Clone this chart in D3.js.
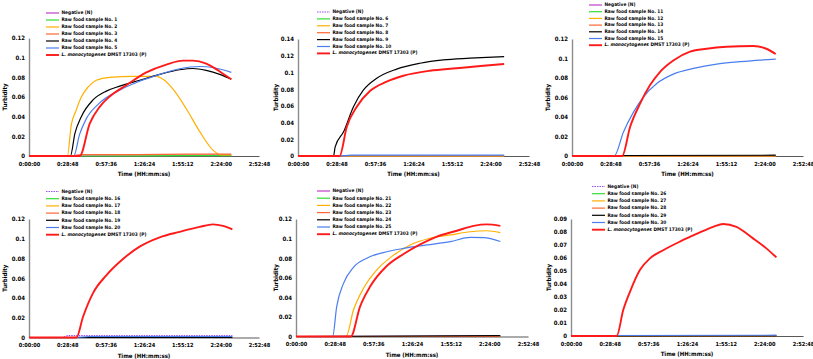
<!DOCTYPE html>
<html>
<head>
<meta charset="utf-8">
<script src="https://cdn.jsdelivr.net/npm/d3@7"></script>
<style>
  body { margin: 0; background: #fff; }
  svg { display: block; }
  text { font-family: "Liberation Sans Narrow", "DejaVu Sans Condensed", "Liberation Sans", sans-serif; }
</style>
</head>
<body>
<div id="chart"></div>
<script>
// time axis in minutes, tick every 28.8 min (0.02 day)
const xTicks = [0, 28.8, 57.6, 86.4, 115.2, 144, 172.8];
const xTickLabels = ["0:00:00", "0:28:48", "0:57:36", "1:26:24", "1:55:12", "2:24:00", "2:52:48"];
const posLabel = "DMST 17303 (P)";

const samples1 = ["Raw food sample No. 1", "Raw food sample No. 2", "Raw food sample No. 3", "Raw food sample No. 4", "Raw food sample No. 5"];
const samples2 = ["Raw food sample No. 6", "Raw food sample No. 7", "Raw food sample No. 8", "Raw food sample No. 9", "Raw food sample No. 10"];
const samples3 = ["Raw food sample No. 11", "Raw food sample No. 12", "Raw food sample No. 13", "Raw food sample No. 14", "Raw food sample No. 15"];
const samples4 = ["Raw food sample No. 16", "Raw food sample No. 17", "Raw food sample No. 18", "Raw food sample No. 19", "Raw food sample No. 20"];
const samples5 = ["Raw food sample No. 21", "Raw food sample No. 22", "Raw food sample No. 23", "Raw food sample No. 24", "Raw food sample No. 25"];
const samples6 = ["Raw food sample No. 26", "Raw food sample No. 27", "Raw food sample No. 28", "Raw food sample No. 29", "Raw food sample No. 30"];

// panel 1  [minutes, turbidity]
const p1Neg = [[0,0],[30,0],[40,0.001],[80,0.001],[120,0.001],[152,0.001]];
const p1S1 = [[0,0],[60,0],[120,0.0003],[152,0.0003]];
const p1S2 = [[0,0],[28.8,0],[31.8,0.032],[35,0.045],[39.3,0.06],[44.3,0.07],[50.6,0.077],[60.6,0.08],[78.1,0.081],[95.7,0.081],[100.7,0.078],[108.2,0.068],[118.2,0.048],[128.2,0.025],[138.2,0.006],[144.5,0.001],[152,0.001]];
const p1S3 = [[0,0],[30,0],[40,0.0015],[80,0.0015],[120,0.002],[152,0.002]];
const p1S4 = [[0,0],[31.1,0],[34.5,0.023],[39.3,0.04],[48.1,0.057],[58.1,0.066],[68.1,0.071],[83.1,0.077],[98.2,0.083],[113.2,0.0877],[123.2,0.089],[133.2,0.087],[143.3,0.083],[152,0.078]];
const p1S5 = [[0,0],[33.6,0],[38,0.022],[43.1,0.038],[53.1,0.054],[68.1,0.067],[83.1,0.076],[98.2,0.083],[113.2,0.0887],[128.2,0.091],[138.2,0.09],[152,0.085]];
const p1Pos = [[0,0],[38.1,0],[45.6,0.033],[53.1,0.05],[60.6,0.0605],[73.1,0.072],[88.2,0.085],[103.2,0.093],[115.7,0.097],[123.2,0.097],[133.2,0.094],[143.3,0.086],[152,0.078]];

// panel 2
const p2Neg = [[0,0],[154.2,0.0005]];
const p2Flat = [[0,0],[154.2,0]];
const p2S9 = [[0,0],[26.6,0],[27.8,0.011],[34.1,0.029],[41.5,0.059],[49,0.079],[58.9,0.093],[73.8,0.104],[91.2,0.111],[108.7,0.115],[128.5,0.117],[154.2,0.119]];
const p2S10 = [[0,0],[30,0],[40,0.001],[154.2,0.001]];
const p2Pos = [[0,0],[31.1,0],[36.5,0.035],[44,0.059],[54,0.078],[66.4,0.089],[78.8,0.096],[98.7,0.102],[118.6,0.105],[138.5,0.108],[154.2,0.11]];

// panel 3
const p3Neg = [[0,0],[152.4,0.0005]];
const p3Flat = [[0,0],[152.4,0]];
const p3S14 = [[0,0],[40,0.0005],[152.4,0.0008]];
const p3S15 = [[0,0],[31.6,0],[38.5,0.0247],[46,0.045],[53.5,0.0607],[63.4,0.0744],[75.8,0.084],[90.8,0.0898],[108.2,0.0943],[125.6,0.0967],[140.5,0.0984],[152.4,0.0994]];
const p3Pos = [[0,0],[37.5,0],[43.5,0.03],[51,0.054],[58.4,0.0727],[65.9,0.0864],[75.8,0.098],[88.3,0.107],[100.7,0.11],[115.6,0.112],[135.5,0.1128],[145.4,0.11],[152.4,0.1046]];

// panel 4
const p4Neg = [[0,0],[25,0],[30,0.002],[152.8,0.002]];
const p4Flat = [[0,0],[152.8,0]];
const p4S20 = [[0,0],[35,0],[45,0.001],[152.8,0.001]];
const p4Pos = [[0,0],[35.6,0],[40.6,0.021],[48.1,0.045],[58.1,0.063],[70.6,0.0795],[83.1,0.092],[98.2,0.1015],[113.2,0.107],[128.2,0.112],[138.2,0.1146],[145.8,0.113],[152.8,0.1095]];

// panel 5
const p5Neg = [[0,0],[152.2,0.0005]];
const p5Flat = [[0,0],[152.2,0]];
const p5S22 = [[0,0],[37.3,0],[42.8,0.027],[50.2,0.049],[60.2,0.068],[72.6,0.083],[85,0.0935],[99.9,0.1003],[114.9,0.1037],[129.8,0.107],[142.2,0.108],[152.2,0.106]];
const p5S24 = [[0,0],[152.2,0.0008]];
const p5S25 = [[0,0],[27.3,0],[30.3,0.0306],[35.3,0.054],[42.8,0.0707],[52.7,0.08],[65.1,0.0857],[80.1,0.09],[97.5,0.0935],[114.9,0.0969],[129.8,0.1013],[139.7,0.101],[152.2,0.097]];
const p5Pos = [[0,0],[40.8,0],[47.7,0.0306],[55.2,0.051],[67.6,0.072],[80.1,0.0843],[92.5,0.094],[104.9,0.102],[119.8,0.108],[132.3,0.113],[142.2,0.1145],[152.2,0.113]];

// panel 6
const p6Neg = [[0,0],[153,0.0004]];
const p6Flat = [[0,0],[153,0]];
const p6S30 = [[0,0],[20,0.0004],[153,0.0006]];
const p6Pos = [[0,0],[34,0],[38.9,0.02],[43.9,0.034],[51.3,0.0508],[58.8,0.0597],[68.7,0.066],[81.1,0.0726],[93.5,0.0785],[105.9,0.084],[113.3,0.0862],[123.2,0.084],[135.6,0.0751],[145.5,0.0674],[153,0.0605]];

const sampleColors = ["#33dd33", "#ffb000", "#ff6633", "#000000", "#4a7ef0"];
const posColor = "#ff1a1a";

const panels = [
  { samples: samples1, series: [p1S1, p1S2, p1S3, p1S4, p1S5], neg: p1Neg, pos: p1Pos, yMax: 0.12, yStep: 0.02,
    left: 29, right: 259, top: 38, bottom: 156, legX: 46, legY: 13, legDy: 7, titleX: 5, negColor: "#c040c8", negDash: null },
  { samples: samples2, series: [p2Flat, p2Flat, p2Flat, p2S9, p2S10], neg: p2Neg, pos: p2Pos, yMax: 0.14, yStep: 0.02,
    left: 298, right: 529, top: 39, bottom: 156, legX: 317, legY: 12, legDy: 6.9, titleX: 276, negColor: "#9b50f0", negDash: "1.5,1" },
  { samples: samples3, series: [p3Flat, p3Flat, p3Flat, p3S14, p3S15], neg: p3Neg, pos: p3Pos, yMax: 0.12, yStep: 0.02,
    left: 572, right: 803, top: 39, bottom: 156, legX: 589, legY: 5, legDy: 6.7, titleX: 548, negColor: "#c040c8", negDash: null },
  { samples: samples4, series: [p4Flat, p4Flat, p4Flat, p4Flat, p4S20], neg: p4Neg, pos: p4Pos, yMax: 0.12, yStep: 0.02,
    left: 29, right: 259, top: 219, bottom: 337.5, legX: 46, legY: 191.5, legDy: 7.2, titleX: 5, negColor: "#9b50f0", negDash: "1.5,1" },
  { samples: samples5, series: [p5Flat, p5S22, p5Flat, p5S24, p5S25], neg: p5Neg, pos: p5Pos, yMax: 0.12, yStep: 0.02,
    left: 296, right: 528, top: 219, bottom: 336.5, legX: 317, legY: 191, legDy: 7.2, titleX: 276, negColor: "#c040c8", negDash: null },
  { samples: samples6, series: [p6Flat, p6Flat, p6Flat, p6Flat, p6S30], neg: p6Neg, pos: p6Pos, yMax: 0.09, yStep: 0.01,
    left: 571, right: 803, top: 219, bottom: 336, legX: 592, legY: 186.5, legDy: 7.2, titleX: 549, negColor: "#9b50f0", negDash: "1.5,1" }
];

const W = 813, H = 359;
const svg = d3.select("#chart").append("svg").attr("width", W).attr("height", H);

panels.forEach(p => {
  const g = svg.append("g");
  const x = d3.scaleLinear().domain([0, 172.8]).range([p.left, p.right]);
  const y = d3.scaleLinear().domain([0, p.yMax]).range([p.bottom, p.top]);
  const yTicks = d3.range(0, p.yMax + p.yStep / 2, p.yStep);

  // y axis
  const ya = g.append("g").attr("transform", `translate(${p.left},0)`)
    .call(d3.axisLeft(y).tickValues(yTicks).tickSize(0).tickPadding(4)
      .tickFormat(d => String(+d.toFixed(2))));
  ya.select(".domain").attr("stroke", "#8c8c8c").attr("stroke-width", 1.4);
  ya.selectAll("text").attr("font-size", 6).attr("font-weight", "bold").attr("fill", "#000");

  // x axis
  const xa = g.append("g").attr("transform", `translate(0,${p.bottom})`)
    .call(d3.axisBottom(x).tickValues(xTicks).tickSize(0).tickPadding(6)
      .tickFormat((d, i) => xTickLabels[i]));
  xa.select(".domain").attr("stroke", "#595959").attr("stroke-width", 1.1);
  xa.selectAll("text").attr("font-size", 5.6).attr("font-weight", "bold").attr("fill", "#000");

  // axis titles
  g.append("text")
    .attr("x", (p.left + p.right) / 2).attr("y", p.bottom + 20)
    .attr("text-anchor", "middle").attr("font-size", 6).attr("font-weight", "bold")
    .text("Time (HH:mm:ss)");
  g.append("text")
    .attr("transform", `translate(${p.titleX},${(p.top + p.bottom) / 2}) rotate(-90)`)
    .attr("text-anchor", "middle").attr("dominant-baseline", "middle")
    .attr("font-size", 6).attr("font-weight", "bold")
    .text("Turbidity");

  const line = d3.line().x(d => x(d[0])).y(d => y(d[1])).curve(d3.curveMonotoneX);

  // series in Excel order: negative, samples, positive on top
  g.append("path").datum(p.neg).attr("d", line).attr("fill", "none")
    .attr("stroke", p.negColor).attr("stroke-width", 1.2).attr("stroke-dasharray", p.negDash);
  p.series.forEach((s, i) => {
    g.append("path").datum(s).attr("d", line).attr("fill", "none")
      .attr("stroke", sampleColors[i]).attr("stroke-width", 1.2);
  });
  g.append("path").datum(p.pos).attr("d", line).attr("fill", "none")
    .attr("stroke", posColor).attr("stroke-width", 1.9);

  // legend
  const leg = g.append("g");
  const items = [{ label: "Negative (N)", color: p.negColor, dash: p.negDash, w: 1.2 }]
    .concat(p.samples.map((s, i) => ({ label: s, color: sampleColors[i], dash: null, w: 1.2 })))
    .concat([{ label: null, color: posColor, dash: null, w: 1.9 }]);
  items.forEach((it, i) => {
    const yy = p.legY + i * p.legDy;
    leg.append("line").attr("x1", p.legX).attr("x2", p.legX + 13).attr("y1", yy).attr("y2", yy)
      .attr("stroke", it.color).attr("stroke-width", it.w).attr("stroke-dasharray", it.dash);
    const t = leg.append("text").attr("x", p.legX + 15.5).attr("y", yy)
      .attr("dominant-baseline", "middle").attr("font-size", 4.8).attr("font-weight", "bold");
    if (it.label) {
      t.text(it.label);
    } else {
      t.append("tspan").attr("font-style", "italic").text("L. monocytogenes");
      t.append("tspan").text(" " + posLabel);
    }
  });
});
</script>
</body>
</html>
